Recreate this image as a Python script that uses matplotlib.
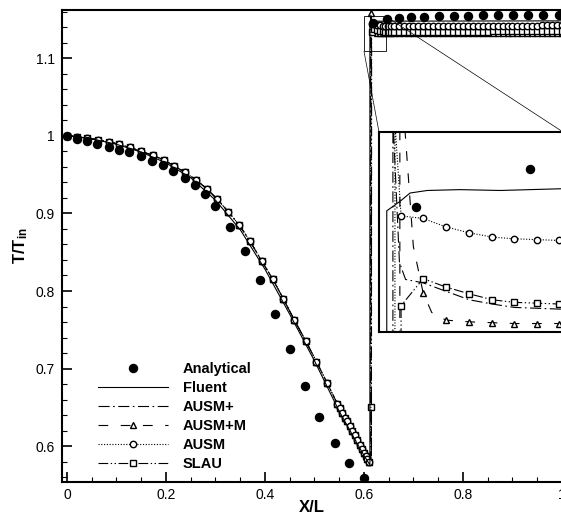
import matplotlib
matplotlib.use("Agg")
import matplotlib.pyplot as plt
from matplotlib.lines import Line2D
from matplotlib.patches import Rectangle, ConnectionPatch
from matplotlib.ticker import MultipleLocator, FormatStrFormatter

plt.rcParams["font.family"] = ["Liberation Sans", "DejaVu Sans"]
plt.rcParams["mathtext.fontset"] = "custom"
plt.rcParams["mathtext.rm"] = "Liberation Sans"
plt.rcParams["mathtext.bf"] = "Liberation Sans:bold"
plt.rcParams["lines.scale_dashes"] = False

# analytical solution
x_an = [0, 0.02, 0.04, 0.06, 0.085, 0.105, 0.126, 0.149, 0.172, 0.193,
        0.215, 0.238, 0.259, 0.279, 0.299, 0.329, 0.36, 0.39, 0.42, 0.45,
        0.481, 0.51, 0.541, 0.57, 0.60,
        0.619, 0.647, 0.67, 0.695, 0.722, 0.752, 0.781, 0.811, 0.841, 0.871,
        0.902, 0.932, 0.962, 0.993]
T_an = [1.0, 0.996, 0.993, 0.990, 0.985, 0.982, 0.979, 0.974, 0.968, 0.962,
        0.955, 0.945, 0.936, 0.925, 0.910, 0.883, 0.852, 0.814, 0.771, 0.725,
        0.678, 0.638, 0.604, 0.578, 0.559,
        1.1455, 1.1500, 1.1515, 1.1525, 1.1535, 1.1540, 1.1545, 1.1548, 1.1550, 1.1550,
        1.1552, 1.1552, 1.1553, 1.1553]

# Fluent
x_fluent = [0, 0.05, 0.1, 0.15, 0.2, 0.25, 0.3, 0.35, 0.4, 0.45, 0.5, 0.55, 0.6,
            0.6119, 0.6119, 0.6151, 0.6176, 0.6218, 0.6298, 0.6396, 0.6543,
            0.70, 0.80, 0.90, 1.0]
T_fluent = [1.0, 0.996, 0.989, 0.979, 0.965, 0.946, 0.917, 0.879, 0.828, 0.770, 0.710, 0.645, 0.588,
            0.576, 1.1451, 1.1462, 1.1472, 1.1475, 1.1476, 1.1475, 1.1477,
            1.1477, 1.1478, 1.1479, 1.1480]

# in-house schemes, shared supersonic part (curves coincide there)
x_pre = [0.0, 0.020, 0.040, 0.062, 0.084, 0.106, 0.127, 0.149, 0.173, 0.195,
         0.217, 0.238, 0.261, 0.282, 0.304, 0.326, 0.348, 0.370, 0.393, 0.416,
         0.437, 0.459, 0.482, 0.504, 0.526, 0.546, 0.551, 0.556, 0.561, 0.566,
         0.571, 0.576, 0.581, 0.586, 0.591, 0.596, 0.600, 0.604, 0.607, 0.610]
T_pre = [1.000, 0.999, 0.997, 0.995, 0.992, 0.989, 0.985, 0.980, 0.975, 0.969,
         0.961, 0.953, 0.943, 0.932, 0.918, 0.902, 0.885, 0.864, 0.839, 0.815,
         0.790, 0.763, 0.736, 0.709, 0.681, 0.655, 0.649, 0.643, 0.637, 0.632,
         0.626, 0.620, 0.614, 0.608, 0.602, 0.597, 0.592, 0.587, 0.584, 0.580]

# shock region, per scheme
x_ausmp_shock = [0.6134, 0.6134, 0.6150, 0.6165, 0.6208, 0.6264, 0.6321, 0.6377, 0.6431, 0.6487, 0.6541]
T_ausmp_shock = [0.579, 1.1560, 1.1390, 1.1370, 1.1366, 1.1356, 1.1346, 1.1341, 1.1337, 1.1336, 1.1335]

x_ausmpm_shock = [0.6151, 0.6151, 0.6164, 0.6184, 0.6208, 0.6229, 0.6264, 0.6321, 0.6377, 0.6431, 0.6487, 0.6541]
T_ausmpm_shock = [0.579, 1.1580, 1.1543, 1.1409, 1.1354, 1.1331, 1.1322, 1.1320, 1.1319, 1.1318, 1.1318, 1.1318]

x_ausm_shock = [0.6139, 0.6139, 0.6154, 0.6208, 0.6264, 0.6321, 0.6377, 0.6431, 0.6487, 0.6541]
T_ausm_shock = [0.579, 1.1555, 1.1445, 1.1442, 1.1432, 1.1425, 1.1420, 1.1418, 1.1417, 1.1416]

x_slau_shock = [0.6150, 0.6150, 0.6154, 0.6208, 0.6264, 0.6321, 0.6377, 0.6431, 0.6487, 0.6541]
T_slau_shock = [0.579, 0.650, 1.1339, 1.1371, 1.1361, 1.1353, 1.1346, 1.1343, 1.1342, 1.1341]

# subsonic part after the shock
x_tail = [0.66, 0.67, 0.68, 0.69, 0.70, 0.71, 0.72, 0.73, 0.74, 0.75,
          0.76, 0.77, 0.78, 0.79, 0.80, 0.81, 0.82, 0.83, 0.84, 0.85,
          0.86, 0.87, 0.88, 0.89, 0.90, 0.91, 0.92, 0.93, 0.94, 0.95,
          0.96, 0.97, 0.98, 0.99, 1.00]
T_ausmp_tail = [1.1334] * 5 + [1.1335] * 10 + [1.1336] * 5 + [1.1337] * 10 + [1.1338] * 5
T_ausmpm_tail = [1.1318] * 10 + [1.1319] * 5 + [1.1320] * 10 + [1.1321] * 5 + [1.1322] * 5
T_ausm_tail = [1.1415] * 5 + [1.1416] * 5 + [1.1417] * 5 + [1.1418] * 5 + [1.1419] * 5 + [1.1420] * 5 + [1.1421] * 5
T_slau_tail = [1.1340] * 5 + [1.1341] * 5 + [1.1342] * 5 + [1.1343] * 5 + [1.1344] * 10 + [1.1345] * 5

labels = ["Analytical", "Fluent", "AUSM+", "AUSM+M", "AUSM", "SLAU"]

# which shock-region points carry a symbol
marks_ausmpm = [False, True, False, False, True, False, True, True, True, True, True, True]
marks_ausm = [False, False] + [True] * 8
marks_slau = [False] + [True] * 9

ls_ausmp = (0, (8, 2.5, 1.2, 2.5))
ls_ausmpm = (0, (7, 9))
ls_ausm = (0, (0.8, 1.2))
ls_slau = (0, (7, 1.8, 1, 1.8, 1, 1.8))

lw = 0.8
ms = 4.6
ms_an = 5.8
mew = 1.0

series = [
    (x_pre + x_ausmp_shock + x_tail, T_pre + T_ausmp_shock + T_ausmp_tail, ls_ausmp, None, None),
    (x_pre + x_ausmpm_shock + x_tail, T_pre + T_ausmpm_shock + T_ausmpm_tail, ls_ausmpm, "^",
     [True] * len(x_pre) + marks_ausmpm + [True] * len(x_tail)),
    (x_pre + x_slau_shock + x_tail, T_pre + T_slau_shock + T_slau_tail, ls_slau, "s",
     [True] * len(x_pre) + marks_slau + [True] * len(x_tail)),
    (x_pre + x_ausm_shock + x_tail, T_pre + T_ausm_shock + T_ausm_tail, ls_ausm, "o",
     [True] * len(x_pre) + marks_ausm + [True] * len(x_tail)),
]


def draw(ax):
    for x, t, ls, mk, marks in series:
        ax.plot(x, t, color="k", lw=lw, ls=ls)
        if mk:
            xm = [a for a, m in zip(x, marks) if m]
            tm = [b for b, m in zip(t, marks) if m]
            ax.plot(xm, tm, ls="none", marker=mk, ms=ms, mfc="white", mec="k", mew=mew)
    ax.plot(x_fluent, T_fluent, color="k", lw=lw, ls="-")
    ax.plot(x_an, T_an, ls="none", marker="o", ms=ms_an, color="k")


fig = plt.figure(figsize=(5.61, 5.17), dpi=100)
ax = fig.add_axes([62 / 561, 35 / 517, 500 / 561, 472 / 517])
draw(ax)
ax.set_xlim(-0.0101, 1.0)
ax.set_ylim(0.554, 1.162)
ax.xaxis.set_major_locator(MultipleLocator(0.2))
ax.xaxis.set_minor_locator(MultipleLocator(0.05))
ax.yaxis.set_major_locator(MultipleLocator(0.1))
ax.yaxis.set_minor_locator(MultipleLocator(0.02))
ax.xaxis.set_major_formatter(FormatStrFormatter("%g"))
ax.yaxis.set_major_formatter(FormatStrFormatter("%g"))
ax.tick_params(which="both", direction="in", top=False, right=False, labelsize=10, colors="k")
ax.tick_params(which="major", length=7.5, width=1.2)
ax.tick_params(which="minor", length=3.8, width=0.8)
ax.tick_params(axis="x", pad=4)
ax.tick_params(axis="y", pad=5)
for s in ax.spines.values():
    s.set_linewidth(1.5)
ax.spines["right"].set_visible(False)
ax.set_xlabel("X/L", fontsize=12, fontweight="bold", labelpad=-1)
ax.set_ylabel(r"$\mathbf{T/T_{in}}$", fontsize=12, labelpad=4)

# legend
handles = [
    Line2D([], [], ls="none", marker="o", ms=ms_an, color="k"),
    Line2D([], [], ls="-", lw=lw, color="k"),
    Line2D([], [], ls=ls_ausmp, lw=lw, color="k"),
    Line2D([], [], ls=ls_ausmpm, lw=lw, color="k", marker="^", ms=ms, mfc="white", mec="k", mew=mew),
    Line2D([], [], ls=ls_ausm, lw=lw, color="k", marker="o", ms=ms, mfc="white", mec="k", mew=mew),
    Line2D([], [], ls=ls_slau, lw=lw, color="k", marker="s", ms=ms, mfc="white", mec="k", mew=mew),
]
leg = ax.legend(handles, labels, loc="upper left", bbox_to_anchor=(98 / 561, 1 - 362 / 517),
                bbox_transform=fig.transFigure, frameon=False, borderpad=0, borderaxespad=0,
                handlelength=4.8, handletextpad=1.0, labelspacing=0.34, numpoints=1,
                prop={"size": 10.5, "weight": "bold"})

# zoom box and inset
ax.add_patch(Rectangle((0.600, 1.1088), 0.044, 0.0451, fill=False, ec="k", lw=0.6, zorder=5))
axin = fig.add_axes([379 / 561, 185 / 517, 184 / 561, 200 / 517])
axin.set_facecolor("white")
draw(axin)
axin.set_xlim(0.610, 0.655)
axin.set_ylim(1.1308, 1.1544)
axin.set_xticks([])
axin.set_yticks([])
for s in axin.spines.values():
    s.set_linewidth(1.5)
for xa, xb in [((0.600, 1.1088), (0, 1)), ((0.644, 1.1539), (1, 1))]:
    fig.add_artist(ConnectionPatch(xyA=xa, coordsA=ax.transData, xyB=xb, coordsB=axin.transAxes,
                                   lw=0.5, color="k"))

fig.savefig("out.png", dpi=100)
